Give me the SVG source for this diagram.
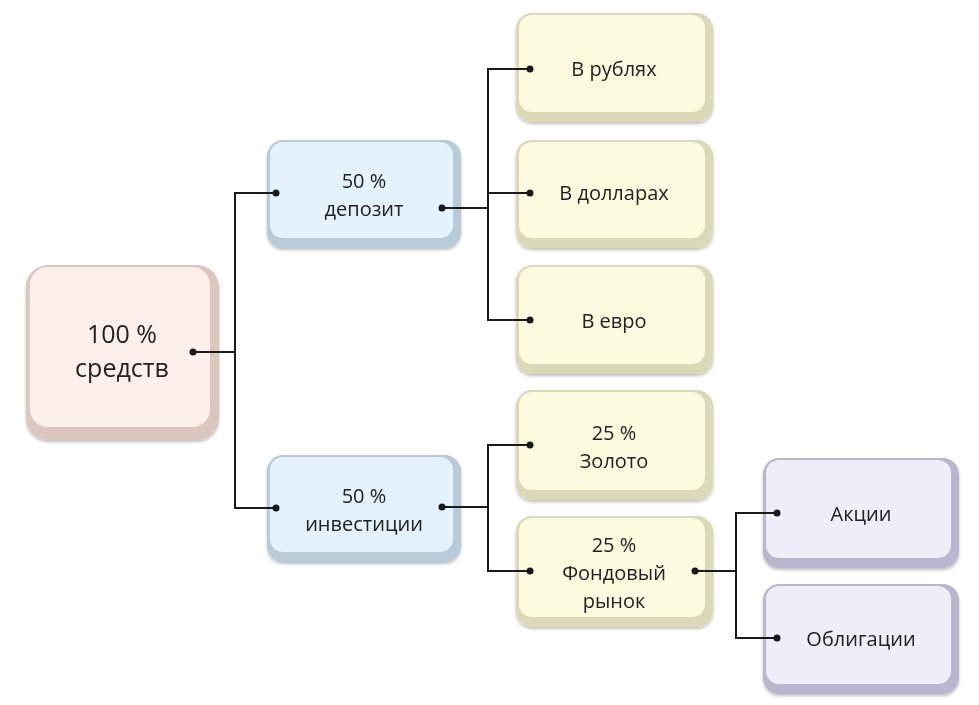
<svg xmlns="http://www.w3.org/2000/svg" width="979" height="705" viewBox="0 0 979 705">
<style>
text{font-family:"Open Sans","Noto Sans",sans-serif;fill:#222;text-anchor:middle;font-size:20px}
.big{font-size:25px}
.ln{fill:none;stroke:#1a1a1a;stroke-width:2}
.dot{fill:#1a1a1a}
</style>
<defs>
<filter id="sh" x="-10%" y="-10%" width="120%" height="130%"><feDropShadow dx="0" dy="2" stdDeviation="1.5" flood-color="#000" flood-opacity="0.25"/></filter>
</defs>
<rect width="979" height="705" fill="#fff"/>
<g id="root" filter="url(#sh)"><rect x="26" y="265" width="193" height="175" rx="22" fill="#dcc6c0"/><rect x="30" y="267" width="180" height="160" rx="18" fill="#fdefe9"/><text class="big" x="122" y="343">100 %</text><text class="big" x="122" y="377">средств</text></g>
<g id="deposit" filter="url(#sh)"><rect x="267" y="140" width="194" height="108" rx="16" fill="#b7cbd9"/><rect x="270" y="142" width="183" height="96" rx="13" fill="#e3f2fc"/><text x="364" y="188">50 %</text><text x="364" y="216">депозит</text></g>
<g id="invest" filter="url(#sh)"><rect x="267" y="455" width="194" height="107" rx="16" fill="#b7cbd9"/><rect x="270" y="457" width="183" height="95" rx="13" fill="#e3f2fc"/><text x="364" y="503">50 %</text><text x="364" y="531">инвестиции</text></g>
<g id="rub" filter="url(#sh)"><rect x="516" y="13" width="197" height="109" rx="16" fill="#dcd9b8"/><rect x="519" y="15" width="186" height="97" rx="13" fill="#fdfbdf"/><text x="614" y="76">В рублях</text></g>
<g id="usd" filter="url(#sh)"><rect x="516" y="140" width="197" height="108" rx="16" fill="#dcd9b8"/><rect x="519" y="142" width="186" height="96" rx="13" fill="#fdfbdf"/><text x="614" y="200">В долларах</text></g>
<g id="eur" filter="url(#sh)"><rect x="516" y="265" width="197" height="109" rx="16" fill="#dcd9b8"/><rect x="519" y="267" width="186" height="97" rx="13" fill="#fdfbdf"/><text x="614" y="328">В евро</text></g>
<g id="gold" filter="url(#sh)"><rect x="516" y="390" width="197" height="110" rx="16" fill="#dcd9b8"/><rect x="519" y="392" width="186" height="98" rx="13" fill="#fdfbdf"/><text x="614" y="440">25 %</text><text x="614" y="468">Золото</text></g>
<g id="fund" filter="url(#sh)"><rect x="516" y="516" width="197" height="111" rx="16" fill="#dcd9b8"/><rect x="519" y="518" width="186" height="99" rx="13" fill="#fdfbdf"/><text x="614" y="552">25 %</text><text x="614" y="580">Фондовый</text><text x="614" y="608">рынок</text></g>
<g id="akcii" filter="url(#sh)"><rect x="763" y="458" width="196" height="110" rx="16" fill="#b9b7cf"/><rect x="766" y="460" width="185" height="98" rx="13" fill="#eeedf8"/><text x="861" y="521">Акции</text></g>
<g id="oblig" filter="url(#sh)"><rect x="763" y="584" width="196" height="110" rx="16" fill="#b9b7cf"/><rect x="766" y="586" width="185" height="98" rx="13" fill="#eeedf8"/><text x="861" y="646">Облигации</text></g>
<g id="connectors">
<path class="ln" d="M193 352H235M276 193H235V508H276"/>
<path class="ln" d="M442 208H488M530 69H488V320H530M488 193H530"/>
<path class="ln" d="M442 507H488M530 445H488V571H530"/>
<path class="ln" d="M695 571H736M777 513H736V638H777"/>
<circle class="dot" cx="193" cy="352" r="3.5"/><circle class="dot" cx="276" cy="193" r="3.5"/><circle class="dot" cx="276" cy="508" r="3.5"/>
<circle class="dot" cx="442" cy="208" r="3.5"/><circle class="dot" cx="442" cy="507" r="3.5"/>
<circle class="dot" cx="530" cy="69" r="3.5"/><circle class="dot" cx="530" cy="193" r="3.5"/><circle class="dot" cx="530" cy="320" r="3.5"/>
<circle class="dot" cx="530" cy="445" r="3.5"/><circle class="dot" cx="530" cy="571" r="3.5"/><circle class="dot" cx="695" cy="571" r="3.5"/>
<circle class="dot" cx="777" cy="513" r="3.5"/><circle class="dot" cx="777" cy="638" r="3.5"/>
</g>
</svg>
